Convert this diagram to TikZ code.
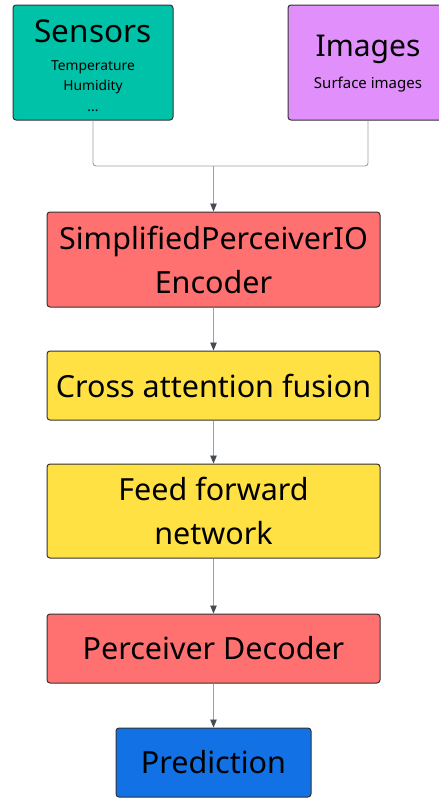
\documentclass[tikz,border=0pt]{standalone}
\usepackage{fontspec}
\setmainfont{Noto Sans}
\usetikzlibrary{arrows.meta}
\definecolor{teal}{HTML}{00C2A8}
\definecolor{violet}{HTML}{E08FFB}
\definecolor{salmon}{HTML}{FF7171}
\definecolor{yellowbox}{HTML}{FFE143}
\definecolor{bluebox}{HTML}{1171E5}
\definecolor{edge}{HTML}{333333}
\definecolor{wire}{HTML}{9AA0A8}
\definecolor{tip}{HTML}{454B55}
\tikzset{
  box/.style={draw=edge, line width=1pt, rounded corners=3pt, align=center,
    inner sep=0pt, font=\fontsize{30.5}{44}\selectfont},
  wireline/.style={draw=wire, line width=0.9pt, rounded corners=3pt},
  flow/.style={wireline, -{Triangle[length=8pt,width=6.5pt,color=tip]}},
}
\begin{document}
\begin{tikzpicture}[x=1pt,y=-1pt]
\useasboundingbox (0,0) rectangle (439,798);
\clip (0,0) rectangle (439,798);
\fill[white] (0,0) rectangle (439,798);

% input sources
\node[box, fill=teal, minimum width=160pt, minimum height=115pt] (sensors) at (93,62.5) {};
\node (sensorstitle) at (93,31) {\fontsize{31.5}{32}\selectfont Sensors};
\node[align=center, font=\fontsize{13.8}{20.5}\selectfont] (sensorslist) at (93,86)
  {Temperature\\Humidity\\...};

\node[box, fill=violet, minimum width=160pt, minimum height=115pt] (images) at (368,62.5) {};
\node (imagestitle) at (368,49) {\fontsize{30}{30}\selectfont Images};
\node[font=\fontsize{15}{18}\selectfont] (imageslist) at (368,85) {Surface images};

% processing chain
\node[box, fill=salmon, minimum width=333pt, minimum height=95pt] (encoder) at (213.5,259.5)
  {SimplifiedPerceiverIO\\Encoder};
\node[box, fill=yellowbox, minimum width=333pt, minimum height=69pt] (fusion) at (213.5,385.5)
  {Cross attention fusion};
\node[box, fill=yellowbox, minimum width=333pt, minimum height=94pt] (ffn) at (213.5,511)
  {Feed forward\\network};
\node[box, fill=salmon, minimum width=333pt, minimum height=69pt] (decoder) at (213.5,648.5)
  {Perceiver Decoder};
\node[box, fill=bluebox, minimum width=195pt, minimum height=69pt] (prediction) at (213.5,762.5)
  {Prediction};

% connectors
\coordinate (merge) at (213.5,166);
\draw[wireline] (sensors.south) |- (merge);
\draw[wireline] (images.south) |- (merge);
\draw[flow] (merge) -- (encoder.north);
\draw[flow] (encoder) -- (fusion);
\draw[flow] (fusion) -- (ffn);
\draw[flow] (ffn) -- (decoder);
\draw[flow] (decoder) -- (prediction);
\end{tikzpicture}
\end{document}
